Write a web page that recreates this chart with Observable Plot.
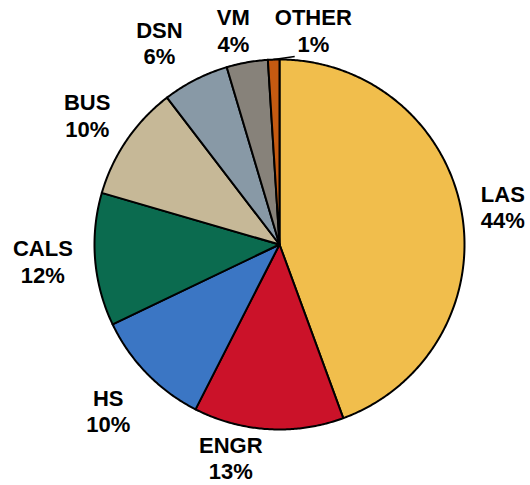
<!DOCTYPE html>
<html>
<head>
<meta charset="utf-8">
<script src="https://cdn.jsdelivr.net/npm/d3@7"></script>
<script src="https://cdn.jsdelivr.net/npm/@observablehq/plot@0.6"></script>
<style>
  html, body { margin: 0; padding: 0; background: #fff; }
  svg { display: block; }
</style>
</head>
<body>
<div id="chart"></div>
<script>
// ---- data ----
const colleges = ["LAS", "ENGR", "HS", "CALS", "BUS", "DSN", "VM", "OTHER"];
const shares   = [44.4, 13.1, 10.4, 11.6, 10.1, 5.8, 3.6, 1.0];
const colors   = ["#F1BE4C", "#CB1229", "#3B76C4", "#0B6B4F", "#C6B897", "#8899A6", "#87827A", "#C55A11"];

// ---- layout (label placement tweaks, in px) ----
const labelNudge = {
  LAS: [-2.5, 2], ENGR: [-35, -16], HS: [-7, 6], CALS: [-8, -2],
  BUS: [-3, 0], DSN: [-16, 2.5], VM: [-6, 11.5], OTHER: [41, 15]
};
const R = 185; // pixel radius of the unit circle

const rows = colleges.map((c, i) => ({college: c, share: shares[i], color: colors[i]}));
const arcs = d3.pie().sort(null).value(d => d.share)(rows);

// slice outlines as polygons in unit-circle coordinates
const slicePts = [];
arcs.forEach(a => {
  const id = a.data.college;
  slicePts.push({id, x: 0, y: 0});
  const n = Math.max(2, Math.ceil((a.endAngle - a.startAngle) / (Math.PI / 360)));
  for (let k = 0; k <= n; k++) {
    const t = a.startAngle + (a.endAngle - a.startAngle) * k / n;
    slicePts.push({id, x: Math.sin(t), y: Math.cos(t)});
  }
});

const labels = arcs.map(a => {
  const m = (a.startAngle + a.endAngle) / 2;
  const [nx, ny] = labelNudge[a.data.college];
  return {
    text: `${a.data.college}\n${Math.round(a.data.share)}%`,
    x: 1.24 * Math.sin(m) + nx / R,
    y: 1.24 * Math.cos(m) - ny / R
  };
});

// leader line for the tiny OTHER slice
const other = arcs[arcs.length - 1];
const om = (other.startAngle + other.endAngle) / 2;
const leader = [{x1: Math.sin(om), y1: Math.cos(om), x2: Math.sin(om) + 21 / R, y2: Math.cos(om) + 3 / R}];

const chart = Plot.plot({
  width: 530,
  height: 485,
  marginLeft: 94,
  marginRight: 66,
  marginTop: 59,
  marginBottom: 56,
  x: {domain: [-1, 1], axis: null},
  y: {domain: [-1, 1], axis: null},
  color: {domain: colleges, range: colors},
  style: {fontFamily: "Liberation Sans, Arial, sans-serif", background: "#fff"},
  marks: [
    Plot.line(slicePts, {
      x: "x", y: "y", z: "id", fill: "id",
      stroke: "#000", strokeWidth: 2, strokeLinejoin: "round",
      curve: "linear-closed"
    }),
    Plot.link(leader, {x1: "x1", y1: "y1", x2: "x2", y2: "y2", stroke: "#000", strokeWidth: 1.5}),
    Plot.text(labels, {
      x: "x", y: "y", text: "text",
      fontSize: 22, fontWeight: "bold", lineHeight: 1.2, fill: "#000"
    })
  ]
});
document.getElementById("chart").appendChild(chart);
</script>
</body>
</html>
